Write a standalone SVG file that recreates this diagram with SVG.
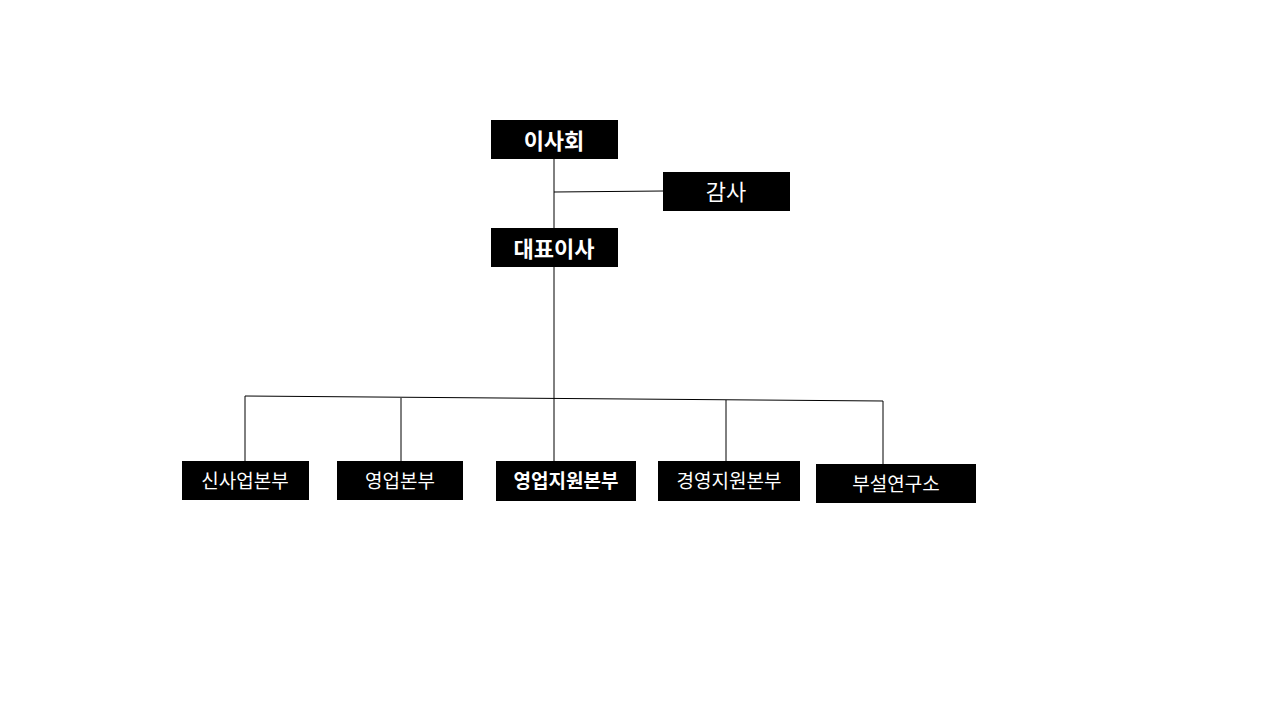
<svg xmlns="http://www.w3.org/2000/svg" width="1280" height="720" viewBox="0 0 1280 720">
<style>
.b{fill:#000}
.t{fill:#fff;font-family:"Noto Sans CJK KR","Liberation Sans",sans-serif;text-anchor:middle;dominant-baseline:central}
.l{stroke:#000;stroke-width:1;fill:none}
</style>
<rect width="1280" height="720" fill="#fff"/>
<g id="connectors">
<path class="l" d="M554,159V399M554,192L663,191M245,396L883,401M245,396V461M401,398V461M554,399V461M726,400V461M883,401V464"/>
</g>
<g id="n1"><rect class="b" x="491" y="120" width="127" height="39"/><text class="t" x="554" y="139" font-size="22" font-weight="bold">이사회</text></g>
<g id="n2"><rect class="b" x="663" y="172" width="127" height="39"/><text class="t" x="726" y="190" font-size="22">감사</text></g>
<g id="n3"><rect class="b" x="491" y="228" width="127" height="39"/><text class="t" x="554" y="247" font-size="22" font-weight="bold">대표이사</text></g>
<g id="n4"><rect class="b" x="182" y="461" width="127" height="39"/><text class="t" x="245" y="479" font-size="19">신사업본부</text></g>
<g id="n5"><rect class="b" x="337" y="461" width="126" height="39"/><text class="t" x="400" y="479" font-size="19">영업본부</text></g>
<g id="n6"><rect class="b" x="496" y="461" width="140" height="40"/><text class="t" x="566" y="479" font-size="19" font-weight="bold">영업지원본부</text></g>
<g id="n7"><rect class="b" x="658" y="461" width="142" height="40"/><text class="t" x="729" y="479" font-size="19">경영지원본부</text></g>
<g id="n8"><rect class="b" x="816" y="464" width="160" height="39"/><text class="t" x="896" y="482" font-size="19">부설연구소</text></g>
</svg>
